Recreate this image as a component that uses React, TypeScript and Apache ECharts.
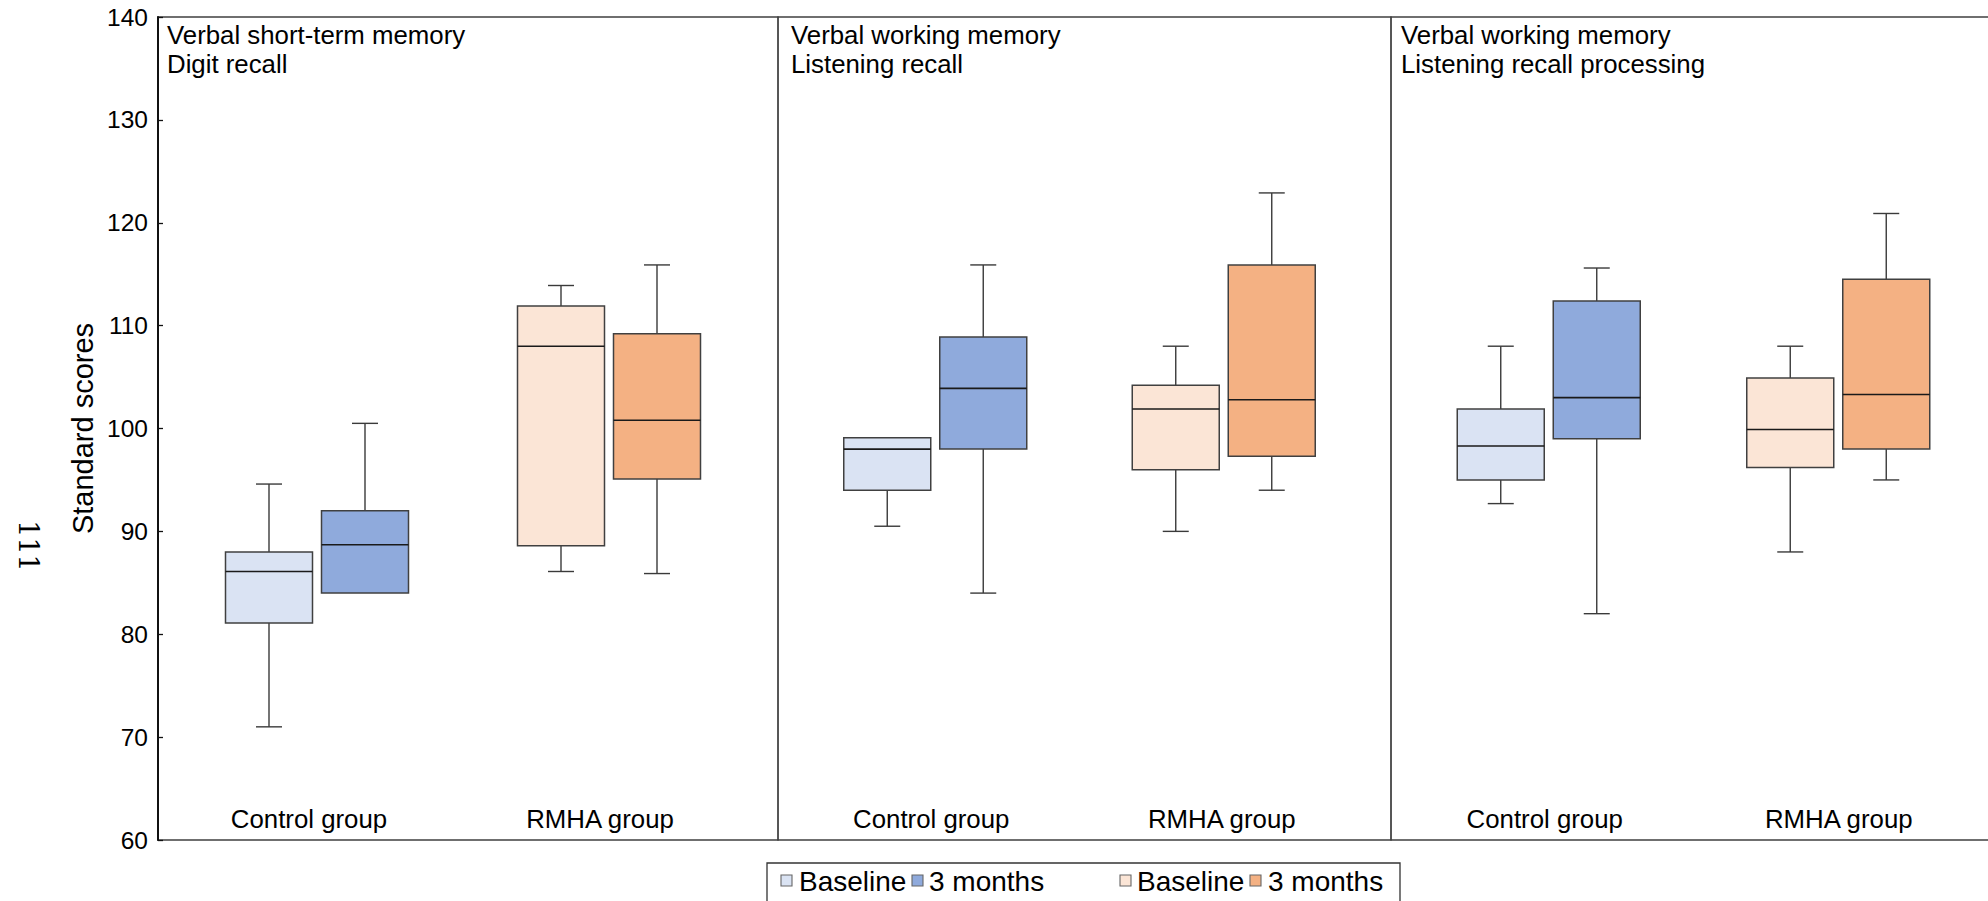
import React, { useEffect, useRef } from 'react';
import * as echarts from 'echarts';

// ---------- data ----------
const categories = ['Control group', 'RMHA group'];
const timepoints = ['Baseline', '3 months'];
const panelTitles = [
  'Verbal short-term memory\nDigit recall',
  'Verbal working memory\nListening recall',
  'Verbal working memory\nListening recall processing',
];
const yMin = 60;
const yMax = 140;
const yInterval = 10;
const yAxisName = 'Standard scores';

// [min, Q1, median, Q3, max]
const digitControlBaseline = [71.0, 81.1, 86.1, 88.0, 94.6];
const digitControl3m = [84.0, 84.0, 88.7, 92.0, 100.5];
const digitRmhaBaseline = [86.1, 88.6, 108.0, 111.9, 113.9];
const digitRmha3m = [85.9, 95.1, 100.8, 109.2, 115.9];

const listeningControlBaseline = [90.5, 94.0, 98.0, 99.1, 99.1];
const listeningControl3m = [84.0, 98.0, 103.9, 108.9, 115.9];
const listeningRmhaBaseline = [90.0, 96.0, 101.9, 104.2, 108.0];
const listeningRmha3m = [94.0, 97.3, 102.8, 115.9, 122.9];

const processingControlBaseline = [92.7, 95.0, 98.3, 101.9, 108.0];
const processingControl3m = [82.0, 99.0, 103.0, 112.4, 115.6];
const processingRmhaBaseline = [88.0, 96.2, 99.9, 104.9, 108.0];
const processingRmha3m = [95.0, 98.0, 103.3, 114.5, 120.9];

const panelData = [
  [[digitControlBaseline, digitControl3m], [digitRmhaBaseline, digitRmha3m]],
  [[listeningControlBaseline, listeningControl3m], [listeningRmhaBaseline, listeningRmha3m]],
  [[processingControlBaseline, processingControl3m], [processingRmhaBaseline, processingRmha3m]],
];

// ---------- styles ----------
const FONT = 'Liberation Sans, Arial, Helvetica, sans-serif';
const FILLS = [
  ['#DAE3F3', '#8FAADC'],
  ['#FBE5D6', '#F4B183'],
];
const BOX_W = 87;
const BOX_OFFSET = 48;
const CAP_W = 26;
const GROUP_SHIFT = [4, -14];
const GRID_LEFTS = [158, 778, 1391];
const GRID_WIDTHS = [620, 613, 615];
const TITLE_LEFTS = [167, 791, 1401];
const CONTROL_LABEL_PAD = [8, 0, 0];
const RMHA_LABEL_PAD = [46, 32, 27];
const CHART_W = 2010;

function renderBox(params: any, api: any) {
  const cat = api.value(0);
  const t = api.value(1);
  const vals = [2, 3, 4, 5, 6].map((i) => api.value(i));
  const center = api.coord([cat, vals[2]])[0];
  const cx = center + GROUP_SHIFT[cat] + (t === 0 ? -BOX_OFFSET : BOX_OFFSET);
  const ys = vals.map((v: number) => api.coord([cat, v])[1]);
  const [yMinP, yQ1, yMed, yQ3, yMaxP] = ys;
  const wStyle = { stroke: '#3a3a3a', lineWidth: 1.4 };
  const children: any[] = [];
  if (vals[4] > vals[3]) {
    children.push({ type: 'line', shape: { x1: cx, y1: yMaxP, x2: cx, y2: yQ3 }, style: wStyle });
    children.push({ type: 'line', shape: { x1: cx - CAP_W / 2, y1: yMaxP, x2: cx + CAP_W / 2, y2: yMaxP }, style: wStyle });
  }
  if (vals[0] < vals[1]) {
    children.push({ type: 'line', shape: { x1: cx, y1: yQ1, x2: cx, y2: yMinP }, style: wStyle });
    children.push({ type: 'line', shape: { x1: cx - CAP_W / 2, y1: yMinP, x2: cx + CAP_W / 2, y2: yMinP }, style: wStyle });
  }
  children.push({
    type: 'rect',
    shape: { x: cx - BOX_W / 2, y: yQ3, width: BOX_W, height: yQ1 - yQ3 },
    style: { fill: FILLS[cat][t], stroke: '#404040', lineWidth: 1.5 },
  });
  children.push({
    type: 'line',
    shape: { x1: cx - BOX_W / 2, y1: yMed, x2: cx + BOX_W / 2, y2: yMed },
    style: { stroke: '#1a1a1a', lineWidth: 1.6 },
  });
  return { type: 'group', children };
}

export default function App() {
  const ref = useRef<HTMLDivElement>(null);

  useEffect(() => {
    document.body.style.margin = '0';
    if (!ref.current) return;
    const chart = echarts.init(ref.current, null, { renderer: 'svg' });

    const grids = GRID_LEFTS.map((left, i) => ({
      left,
      width: GRID_WIDTHS[i],
      top: 17,
      bottom: 61,
      show: true,
      borderColor: '#404040',
      borderWidth: 1.3,
      backgroundColor: 'transparent',
    }));

    const xAxes = GRID_LEFTS.map((_, i) => ({
      type: 'category',
      gridIndex: i,
      data: categories,
      axisLine: { show: false },
      axisTick: { show: false },
      splitLine: { show: false },
      axisLabel: {
        inside: true,
        interval: 0,
        margin: 8,
        formatter: (v: string, idx: number) => (idx === 1 ? `{r|${v}}` : `{c|${v}}`),
        rich: {
          c: { fontSize: 25.8, color: '#000', fontFamily: FONT, padding: [0, CONTROL_LABEL_PAD[i], 0, 0] },
          r: { fontSize: 25.8, color: '#000', fontFamily: FONT, padding: [0, RMHA_LABEL_PAD[i], 0, 0] },
        },
      },
    }));

    const yAxes = GRID_LEFTS.map((_, i) => ({
      type: 'value',
      gridIndex: i,
      min: yMin,
      max: yMax,
      interval: yInterval,
      show: i === 0,
      name: i === 0 ? yAxisName : '',
      nameLocation: 'middle',
      nameGap: 61,
      nameTextStyle: { fontSize: 29, color: '#000', fontFamily: FONT },
      axisLine: { show: true, lineStyle: { color: '#111', width: 2 } },
      axisTick: { show: true, inside: true, length: 5, lineStyle: { color: '#111', width: 1.3 } },
      axisLabel: { fontSize: 24.5, color: '#000', margin: 10, fontFamily: FONT },
      splitLine: { show: false },
    }));

    const series = panelData.map((panel, p) => {
      const data: number[][] = [];
      panel.forEach((group, c) => {
        group.forEach((vals, t) => {
          data.push([c, t, ...vals]);
        });
      });
      return {
        type: 'custom',
        name: panelTitles[p],
        xAxisIndex: p,
        yAxisIndex: p,
        renderItem: renderBox,
        encode: { x: 0, y: [2, 3, 4, 5, 6] },
        data,
        silent: true,
      };
    });

    const legendItems = [
      { marker: 781, text: 799, fill: FILLS[0][0], label: timepoints[0] },
      { marker: 912, text: 929, fill: FILLS[0][1], label: timepoints[1] },
      { marker: 1120, text: 1137, fill: FILLS[1][0], label: timepoints[0] },
      { marker: 1250, text: 1268, fill: FILLS[1][1], label: timepoints[1] },
    ];
    const legendGraphics: any[] = [
      {
        type: 'rect',
        shape: { x: 767, y: 863, width: 633, height: 60 },
        style: { fill: '#fff', stroke: '#333', lineWidth: 1.3 },
      },
    ];
    legendItems.forEach((it) => {
      legendGraphics.push({
        type: 'rect',
        shape: { x: it.marker, y: 875, width: 11, height: 11 },
        style: { fill: it.fill, stroke: '#666', lineWidth: 1.1 },
      });
      legendGraphics.push({
        type: 'text',
        x: it.text,
        y: 881,
        style: {
          text: it.label,
          fontSize: 28,
          fontFamily: FONT,
          fill: '#000',
          align: 'left',
          verticalAlign: 'middle',
        },
      });
    });
    legendGraphics.push({
      type: 'text',
      x: 28,
      y: 546,
      rotation: -Math.PI / 2,
      style: {
        text: '111',
        fontSize: 27,
        fontFamily: 'DejaVu Serif, Liberation Serif, serif',
        fill: '#000',
        align: 'center',
        verticalAlign: 'middle',
      },
    });

    chart.setOption({
      animation: false,
      backgroundColor: '#fff',
      title: panelTitles.map((text, i) => ({
        text,
        left: TITLE_LEFTS[i],
        top: 20,
        padding: 0,
        textStyle: {
          fontSize: 25.8,
          fontWeight: 'normal',
          color: '#000',
          fontFamily: FONT,
          lineHeight: 29,
        },
      })),
      grid: grids,
      xAxis: xAxes,
      yAxis: yAxes,
      series,
      graphic: legendGraphics,
    });

    return () => {
      chart.dispose();
    };
  }, []);

  return (
    <div style={{ width: 1988, height: 901, overflow: 'hidden', position: 'relative' }}>
      <div ref={ref} style={{ width: CHART_W, height: 901 }} />
    </div>
  );
}
